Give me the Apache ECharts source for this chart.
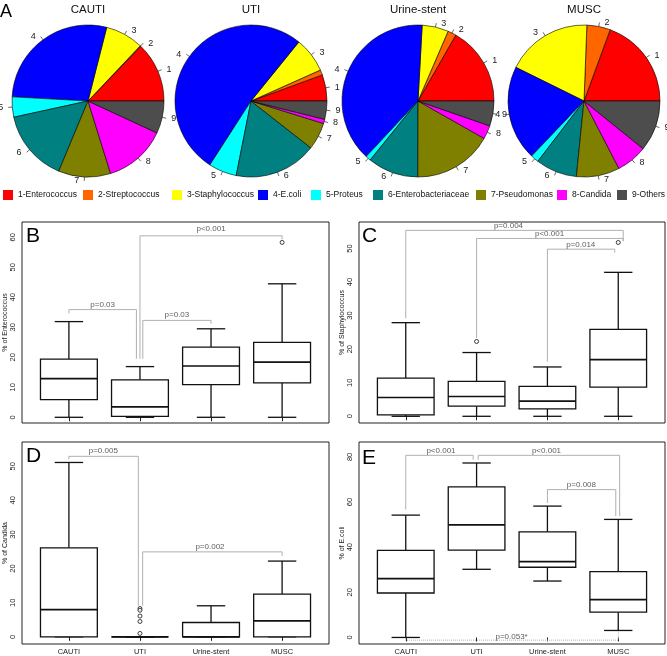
<!DOCTYPE html>
<html><head><meta charset="utf-8">
<script src="https://cdn.jsdelivr.net/npm/echarts@6/dist/echarts.min.js"></script>
<style>html,body{margin:0;padding:0;background:#fff}#c{width:667px;height:656px}</style>
</head><body><div id="c"></div>
<script>
// ---------- DATA ----------
const organisms = ['1-Enterococcus','2-Streptococcus','3-Staphylococcus','4-E.coli','5-Proteus','6-Enterobacteriaceae','7-Pseudomonas','8-Candida','9-Others'];
const groups = ['CAUTI','UTI','Urine-stent','MUSC'];
// pie shares (%), order = organisms
const pieCAUTI = [12.8,0.15,8.1,28.1,4.3,15.3,11.1,13.3,6.9];
const pieUTI   = [5.6,1.1,7.5,51.9,6.0,17.6,5.8,0.9,3.9];
const pieStent = [16.7,1.8,5.6,38.9,1.1,10.8,16.8,2.9,5.3];
const pieMUSC  = [19.4,5.0,18.3,20.2,1.7,8.8,9.2,6.6,10.8];
// box stats per group: [min, q1, median, q3, max]
const enteroBox = [[0,5.9,12.9,19.4,31.9],[0,0.3,3.5,12.5,16.9],[0,10.9,17.1,23.4,29.5],[0,11.5,18.4,25.0,44.5]];
const enteroOut = [[4,58.3]];
const staphBox  = [[0,0.4,5.6,11.4,27.9],[0,3.0,5.9,10.4,19.0],[0,2.2,4.5,8.9,14.7],[0,8.7,16.9,25.9,42.9]];
const staphOut  = [[2,22.3],[4,51.8]];
const candBox   = [[0,0,8.0,26.1,51.1],[0,0,0,0,0],[0,0,0,4.2,9.1],[0,0,4.7,12.5,22.2]];
const candOut   = [[2,8.3],[2,7.8],[2,6.1],[2,4.5],[2,1.0]];
const ecoliBox  = [[0,19.7,26.1,38.6,54.2],[30.2,38.7,49.9,66.7,77.3],[25.0,31.1,33.6,46.8,58.2],[3.1,11.2,16.8,29.2,52.3]];
const ecoliOut  = [];
// significance brackets: [xLeft, yLeftEnd, yTop, xRight, yRightEnd, text, textX, textY]
const enteroBr = [[1,34.6,35.9,1.95,19.5,'p=0.03',1.475,37.6],[2.04,19.5,32.3,3,31.2,'p=0.03',2.52,34.2],[2,19.5,60.5,4,59.3,'p<0.001',3.0,62.7]];
const staphBr  = [[1,29.2,55.4,4.07,52.2,'p=0.004',2.45,56.7],[2,23.3,53.0,4.07,52.2,'p<0.001',3.03,54.3],[3,16.3,49.8,3.95,48.8,'p=0.014',3.47,51.0]];
const candBr   = [[1,52.0,52.9,1.977,9.1,'p=0.005',1.484,54.4],[2.038,9.1,24.9,4,23.7,'p=0.002',2.985,26.3]];
const ecoliBr  = [[1,56.7,80.7,1.952,78.8,'p<0.001',1.497,82.9],[2.023,78.8,80.7,4.02,53.8,'p<0.001',2.987,82.9],[3,59.6,65.5,3.965,53.8,'p=0.008',3.48,67.7]];
const ecoliTrendBr = [[1,0,-1.2,4,3.1,'p=0.053*',2.494,0.4]];

// ---------- STYLE / LAYOUT ----------
const pieColors = ['#FF0000','#FF6600','#FFFF00','#0000FF','#00FFFF','#008080','#808000','#FF00FF','#4D4D4D'];
const FONT = '"Liberation Sans", Arial, Helvetica, sans-serif';
const chart = echarts.init(document.getElementById('c'), null, {renderer:'canvas'});

const pies = [
  {name:'CAUTI', vals:pieCAUTI, cx:88},
  {name:'UTI', vals:pieUTI, cx:251},
  {name:'Urine-stent', vals:pieStent, cx:418},
  {name:'MUSC', vals:pieMUSC, cx:584}
];
const panels = [
  {grid:{left:22, top:222, width:307, height:201}, ymin:-1.9, ymax:65.1, ticks:[0,10,20,30,40,50,60], name:'% of Enterococcus', box:enteroBox, out:enteroOut, br:enteroBr, dbr:[], labels:false, letter:'B', lx:26, ly:236},
  {grid:{left:359, top:222, width:306, height:201}, ymin:-2.0, ymax:57.9, ticks:[0,10,20,30,40,50], name:'% of Staphylococcus', box:staphBox, out:staphOut, br:staphBr, dbr:[], labels:false, letter:'C', lx:362, ly:236},
  {grid:{left:22, top:442, width:307, height:203}, ymin:-2.1, ymax:57.1, ticks:[0,10,20,30,40,50], name:'% of Candida', box:candBox, out:candOut, br:candBr, dbr:[], labels:true, letter:'D', lx:26, ly:456},
  {grid:{left:359, top:442, width:306, height:203}, ymin:-2.9, ymax:86.6, ticks:[0,20,40,60,80], name:'% of E.coli', box:ecoliBox, out:ecoliOut, br:ecoliBr, dbr:ecoliTrendBr, labels:true, letter:'E', lx:362, ly:458}
];

function renderBox(params, api) {
  const x = api.value(0);
  const lo = api.coord([x, api.value(1)]);
  const q1 = api.coord([x, api.value(2)]);
  const md = api.coord([x, api.value(3)]);
  const q3 = api.coord([x, api.value(4)]);
  const hi = api.coord([x, api.value(5)]);
  const bw = api.size([0.8, 0])[0];
  const sw = api.size([0.4, 0])[0];
  const cx = lo[0];
  const st = {stroke:'#111', lineWidth:1.3, fill:null};
  return {type:'group', children:[
    {type:'line', shape:{x1:cx,y1:hi[1],x2:cx,y2:q3[1]}, style:st},
    {type:'line', shape:{x1:cx,y1:lo[1],x2:cx,y2:q1[1]}, style:st},
    {type:'line', shape:{x1:cx-sw/2,y1:hi[1],x2:cx+sw/2,y2:hi[1]}, style:st},
    {type:'line', shape:{x1:cx-sw/2,y1:lo[1],x2:cx+sw/2,y2:lo[1]}, style:st},
    {type:'rect', shape:{x:cx-bw/2,y:q3[1],width:bw,height:Math.max(q1[1]-q3[1],0)}, style:{stroke:'#111',lineWidth:1.3,fill:'#fff'}},
    {type:'line', shape:{x1:cx-bw/2,y1:md[1],x2:cx+bw/2,y2:md[1]}, style:{stroke:'#111',lineWidth:1.7}}
  ]};
}

const grids = [], xAxes = [], yAxes = [], series = [], graphics = [], legends = [];

pies.forEach(p => {
  series.push({
    type:'pie', center:[p.cx, 101], radius:76, startAngle:0, clockwise:false,
    avoidLabelOverlap:false, animation:false, silent:true,
    data: organisms.map((n,i)=>({name:n, value:p.vals[i], itemStyle:{color:pieColors[i]}})),
    label:{show:true, position:'outside', formatter: d => d.name.split('-')[0], fontSize:9, color:'#222', fontFamily:FONT},
    labelLine:{show:true, length:4, length2:0, smooth:false, lineStyle:{color:'#444', width:0.8}},
    itemStyle:{borderColor:'#000', borderWidth:0.6},
    emphasis:{disabled:true}
  });
  graphics.push({type:'text', x:p.cx, y:10, style:{text:p.name, font:'11.5px '+FONT, fill:'#111', align:'center', verticalAlign:'middle'}});
});
graphics.push({type:'text', x:0, y:12, style:{text:'A', font:'18px '+FONT, fill:'#000', align:'left', verticalAlign:'middle'}});

const legendX = [3, 83, 172, 258, 311, 373, 476, 557, 617];
organisms.forEach((n,i) => {
  legends.push({data:[n], left:legendX[i], top:190, padding:0, itemGap:0, itemWidth:10, itemHeight:10, icon:'rect',
    selectedMode:false, itemStyle:{borderWidth:0}, textStyle:{fontSize:8.5, color:'#111', fontFamily:FONT}});
});

panels.forEach((p, i) => {
  grids.push(Object.assign({show:true, borderColor:'#222', borderWidth:1, backgroundColor:'transparent'}, p.grid));
  xAxes.push({gridIndex:i, type:'value', min:0.34, max:4.66,
    axisLine:{show:false}, splitLine:{show:false},
    axisTick:{show:true, customValues:[1,2,3,4], length:4, lineStyle:{color:'#222', width:1}},
    axisLabel:{show:p.labels, customValues:[1,2,3,4], formatter: v => groups[Math.round(v)-1] || '', fontSize:7.5, margin:4, color:'#222', fontFamily:FONT}});
  yAxes.push({gridIndex:i, type:'value', min:p.ymin, max:p.ymax,
    axisLine:{show:false}, axisTick:{show:false}, splitLine:{show:false},
    axisLabel:{customValues:p.ticks, rotate:90, fontSize:7.5, margin:5, color:'#222', fontFamily:FONT},
    name:p.name, nameLocation:'middle', nameGap:13, nameRotate:90,
    nameTextStyle:{fontSize:7, color:'#222', fontFamily:FONT}});
  series.push({type:'custom', xAxisIndex:i, yAxisIndex:i, renderItem:renderBox, silent:true, animation:false,
    data: p.box.map((b,k)=>[k+1].concat(b)), encode:{x:0, y:[1,2,3,4,5]}, z:3});
  if (p.out.length) series.push({type:'scatter', xAxisIndex:i, yAxisIndex:i, data:p.out.map(o=>[o[0],o[1]]),
    symbol:'circle', symbolSize:4, itemStyle:{color:'#fff', borderColor:'#111', borderWidth:1}, z:4, silent:true, animation:false});
  const allBr = p.br.map(b=>({b, dotted:false})).concat(p.dbr.map(b=>({b, dotted:true})));
  allBr.forEach(o => {
    const b = o.b;
    series.push({type:'line', xAxisIndex:i, yAxisIndex:i, data:[[b[0],b[1]],[b[0],b[2]],[b[3],b[2]],[b[3],b[4]]],
      showSymbol:false, symbol:'none', lineStyle:{color:'#b0b0b0', width:1, type:o.dotted?'dotted':'solid'}, z:2, silent:true, animation:false});
  });
  series.push({type:'scatter', xAxisIndex:i, yAxisIndex:i, symbolSize:0, silent:true, animation:false, z:5,
    data: allBr.map(o=>({value:[o.b[6], o.b[7]], name:o.b[5]})),
    label:{show:true, position:'inside', formatter:'{b}', fontSize:8, color:'#333', fontFamily:FONT}});
  graphics.push({type:'text', x:p.lx, y:p.ly, style:{text:p.letter, font:'21px '+FONT, fill:'#000', align:'left', verticalAlign:'middle'}, z:10});
});

chart.setOption({
  animation:false,
  textStyle:{fontFamily:FONT},
  legend:legends,
  grid:grids, xAxis:xAxes, yAxis:yAxes, series:series,
  graphic:graphics
});
</script></body></html>
